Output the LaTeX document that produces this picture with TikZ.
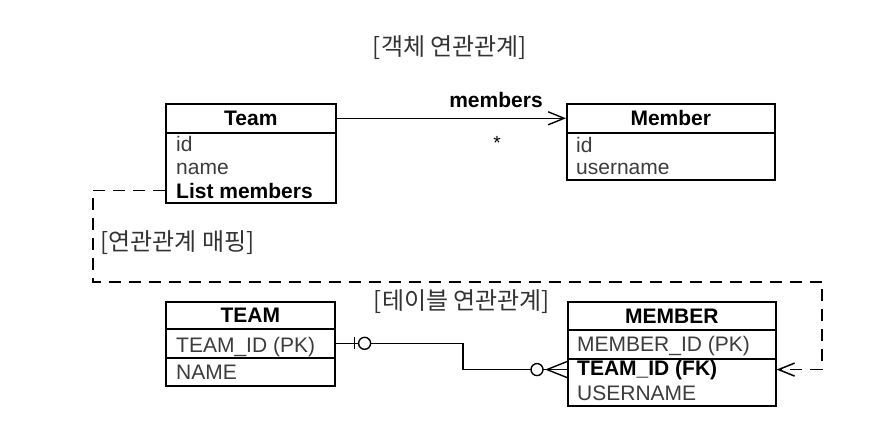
\documentclass[tikz,border=0pt]{standalone}
\usepackage{fontspec}
\setmainfont{Liberation Sans}
\newfontfamily\krfont{Noto Sans CJK KR}
\usepackage{xcolor}
\usepackage{tikz}
\usetikzlibrary{arrows.meta,shadows}
\definecolor{fieldgray}{HTML}{3C3C3C}
\definecolor{notegray}{HTML}{333333}
\tikzset{
  box/.style={draw,line width=1.6pt,fill=white,inner sep=0pt,anchor=north west,
    drop shadow={shadow xshift=1.5pt,shadow yshift=-1.5pt,opacity=0.3}},
  hdr/.style={box,font=\fontsize{21}{24}\selectfont\bfseries},
  fld/.style={anchor=base west,inner sep=0pt,text=fieldgray,font=\fontsize{21}{24}\selectfont},
  key/.style={fld,text=black,font=\fontsize{21}{24}\selectfont\bfseries},
  note/.style={text=notegray,font=\krfont\fontsize{24}{28}\selectfont},
  conn/.style={line width=1.4pt},
  ringmark/.style={circle,draw,line width=1.4pt,fill=white,minimum size=12pt,inner sep=0pt},
  mapline/.style={line width=1.5pt,dash pattern=on 12pt off 8pt},
}
\begin{document}
\begin{tikzpicture}[x=1pt,y=-1pt]
\useasboundingbox (0,0) rectangle (884,434);
% titles
\node[note] (objTitle) at (450,48) {[객체 연관관계]};
\node[note,anchor=west] (mapTitle) at (97,243) {[연관관계 매핑]};
\node[note] (tblTitle) at (462,302) {[테이블 연관관계]};
% object model
\node[hdr,minimum width=170,minimum height=29] (team) at (165,103) {Team};
\node[box,minimum width=170,minimum height=70] (teamBody) at (165,132) {};
\node[fld] (teamId) at (176,151) {id};
\node[fld] (teamName) at (176,174) {name};
\node[key] (teamList) at (176,198) {List members};
\node[hdr,minimum width=208,minimum height=29] (member) at (566,103) {Member};
\node[box,minimum width=208,minimum height=47] (memberBody) at (566,132) {};
\node[fld] (memberId) at (576,152) {id};
\node[fld] (memberName) at (576,174) {username};
\draw[conn,-{Straight Barb[length=16pt,width=13pt]}] (team) -- (member);
\node[anchor=base,font=\fontsize{21}{24}\selectfont\bfseries] (assocName) at (496,107) {members};
\node[font=\fontsize{19}{22}\selectfont] (assocMult) at (497,143) {*};
% table model
\node[hdr,minimum width=169,minimum height=27] (teamTbl) at (165,301) {TEAM};
\node[box,minimum width=169,minimum height=29] (teamPk) at (165,328) {};
\node[box,minimum width=169,minimum height=28] (teamRest) at (165,357) {};
\node[fld] (teamIdCol) at (176,352) {TEAM\_ID (PK)};
\node[fld] (teamNameCol) at (176,379) {NAME};
\node[hdr,minimum width=208,minimum height=28] (memberTbl) at (567,301) {MEMBER};
\node[box,minimum width=208,minimum height=29] (memberPk) at (567,329) {};
\node[box,minimum width=208,minimum height=47] (memberRest) at (567,358) {};
\node[fld] (memberIdCol) at (577,351) {MEMBER\_ID (PK)};
\node[key] (memberFk) at (577,375) {TEAM\_ID (FK)};
\node[fld] (memberNameCol) at (577,400) {USERNAME};
% relation
\coordinate (erBend) at (463,356);
\coordinate (fkIn) at (memberRest.west |- memberFk);
\draw[conn] (teamPk.east) -| (erBend) |- (fkIn);
\draw[conn] ([shift={(19,-6)}]teamPk.east) -- ++(0,12);
\node[ringmark] (oneMark) at ([xshift=29pt]teamPk.east) {};
\draw[conn] ([xshift=-20pt]fkIn) -- ([shift={(0,-8)}]fkIn)
  ([xshift=-20pt]fkIn) -- ([shift={(0,8)}]fkIn);
\node[ringmark] (manyMark) at ([xshift=-30pt]fkIn) {};
% mapping
\coordinate (mapA) at (93,282);
\coordinate (mapB) at (822,282);
\draw[mapline,-{Straight Barb[length=16pt,width=13pt]}] (teamBody.west |- teamList) -| (mapA) -- (mapB) |- (memberRest.east |- memberFk);
\end{tikzpicture}
\end{document}
